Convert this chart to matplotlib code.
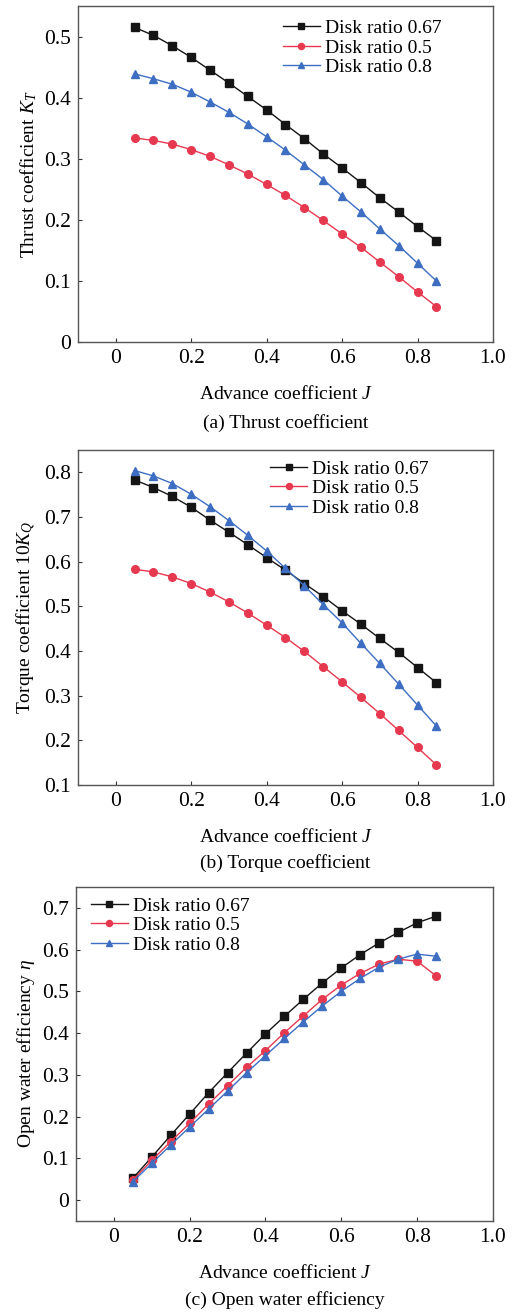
import numpy as np
import matplotlib
matplotlib.use('Agg')
import matplotlib.pyplot as plt

plt.rcParams['font.family'] = ['Liberation Serif', 'DejaVu Serif']
plt.rcParams['mathtext.fontset'] = 'custom'
plt.rcParams['mathtext.rm'] = 'Liberation Serif'
plt.rcParams['mathtext.it'] = 'Liberation Serif:italic'

J = [0.05, 0.1, 0.15, 0.2, 0.25, 0.3, 0.35, 0.4, 0.45, 0.5, 0.55, 0.6, 0.65, 0.7, 0.75, 0.8, 0.85]
labels = ['Disk ratio 0.67', 'Disk ratio 0.5', 'Disk ratio 0.8']

kt_067 = [0.515, 0.502, 0.485, 0.466, 0.445, 0.424, 0.402, 0.380, 0.356, 0.333, 0.308, 0.285, 0.261, 0.236, 0.213, 0.189, 0.166]
kt_05 = [0.334, 0.330, 0.324, 0.315, 0.304, 0.290, 0.275, 0.258, 0.240, 0.220, 0.199, 0.177, 0.155, 0.131, 0.107, 0.082, 0.058]
kt_08 = [0.439, 0.431, 0.422, 0.409, 0.393, 0.376, 0.357, 0.336, 0.314, 0.290, 0.266, 0.239, 0.213, 0.185, 0.158, 0.129, 0.100]

kq_067 = [0.783, 0.766, 0.746, 0.722, 0.693, 0.666, 0.638, 0.609, 0.581, 0.551, 0.522, 0.490, 0.460, 0.428, 0.397, 0.363, 0.329]
kq_05 = [0.583, 0.577, 0.566, 0.551, 0.532, 0.510, 0.485, 0.458, 0.430, 0.399, 0.365, 0.331, 0.296, 0.260, 0.222, 0.184, 0.145]
kq_08 = [0.804, 0.792, 0.775, 0.751, 0.723, 0.692, 0.659, 0.624, 0.585, 0.546, 0.504, 0.463, 0.417, 0.372, 0.326, 0.279, 0.232]

eta_067 = [0.052, 0.103, 0.155, 0.206, 0.257, 0.305, 0.352, 0.398, 0.440, 0.481, 0.520, 0.556, 0.588, 0.616, 0.641, 0.664, 0.680]
eta_05 = [0.048, 0.095, 0.140, 0.184, 0.230, 0.274, 0.318, 0.358, 0.401, 0.441, 0.481, 0.515, 0.543, 0.565, 0.577, 0.572, 0.537]
eta_08 = [0.044, 0.088, 0.132, 0.175, 0.218, 0.261, 0.305, 0.346, 0.387, 0.427, 0.465, 0.500, 0.531, 0.558, 0.577, 0.589, 0.584]

colors = ['#151515', '#e63950', '#3d6ec2']
markers = ['s', 'o', '^']

fig = plt.figure(figsize=(5.2, 13.12), dpi=100)

panels = [
    ([0.150, 0.7393, 0.798, 0.2561], [kt_067, kt_05, kt_08], (0, 0.55), [0, 0.1, 0.2, 0.3, 0.4, 0.5],
     ['0', '0.1', '0.2', '0.3', '0.4', '0.5'], 'Thrust coefficient $K_T$', '(a) Thrust coefficient', (0.494, 0.96), 81),
    ([0.150, 0.4017, 0.798, 0.2553], [kq_067, kq_05, kq_08], (0.1, 0.85), [0.1, 0.2, 0.3, 0.4, 0.5, 0.6, 0.7, 0.8],
     ['0.1', '0.2', '0.3', '0.4', '0.5', '0.6', '0.7', '0.8'], 'Torque coefficient $10K_Q$', '(b) Torque coefficient', (0.463, 0.97), 78),
    ([0.146, 0.0694, 0.802, 0.2546], [eta_067, eta_05, eta_08], (-0.05, 0.75), [0, 0.1, 0.2, 0.3, 0.4, 0.5, 0.6, 0.7],
     ['0', '0.1', '0.2', '0.3', '0.4', '0.5', '0.6', '0.7'], r'Open water efficiency $\eta$', '(c) Open water efficiency', (0.036, 0.97), 79),
]

for rect, series, ylim, yt, ytl, ylab, cap, anchor, cap_off in panels:
    ax = fig.add_axes(rect)
    for s, c, m, lab in zip(series, colors, markers, labels):
        ax.plot(J, s, color=c, marker=m, ms=5.5, lw=1.0, label=lab)
    ax.set_xlim(-0.1, 1.0)
    ax.set_ylim(*ylim)
    ax.set_xticks([0, 0.2, 0.4, 0.6, 0.8, 1.0])
    ax.set_xticklabels(['0', '0.2', '0.4', '0.6', '0.8', '1.0'])
    ax.set_yticks(yt)
    ax.set_yticklabels(ytl)
    ax.tick_params(direction='in', length=3, width=0.8, labelsize=15.5, colors='#333333', labelcolor='black', pad=5)
    for sp in ax.spines.values():
        sp.set_color('#555555')
        sp.set_linewidth(1.0)
    ax.set_ylabel(ylab, fontsize=14, labelpad=4)
    ax.set_xlabel('Advance coefficient $J$', fontsize=14, labelpad=12)
    h_px = rect[3] * 1312
    ax.text(0.5, -cap_off / h_px, cap, transform=ax.transAxes, ha='center', va='center', fontsize=14)
    ax.legend(loc='upper left', bbox_to_anchor=anchor, frameon=False, fontsize=14,
              handlelength=1.9, handletextpad=0.25, labelspacing=0.1, borderpad=0, borderaxespad=0,
              markerscale=0.8)

fig.savefig('out.png', dpi=100)
